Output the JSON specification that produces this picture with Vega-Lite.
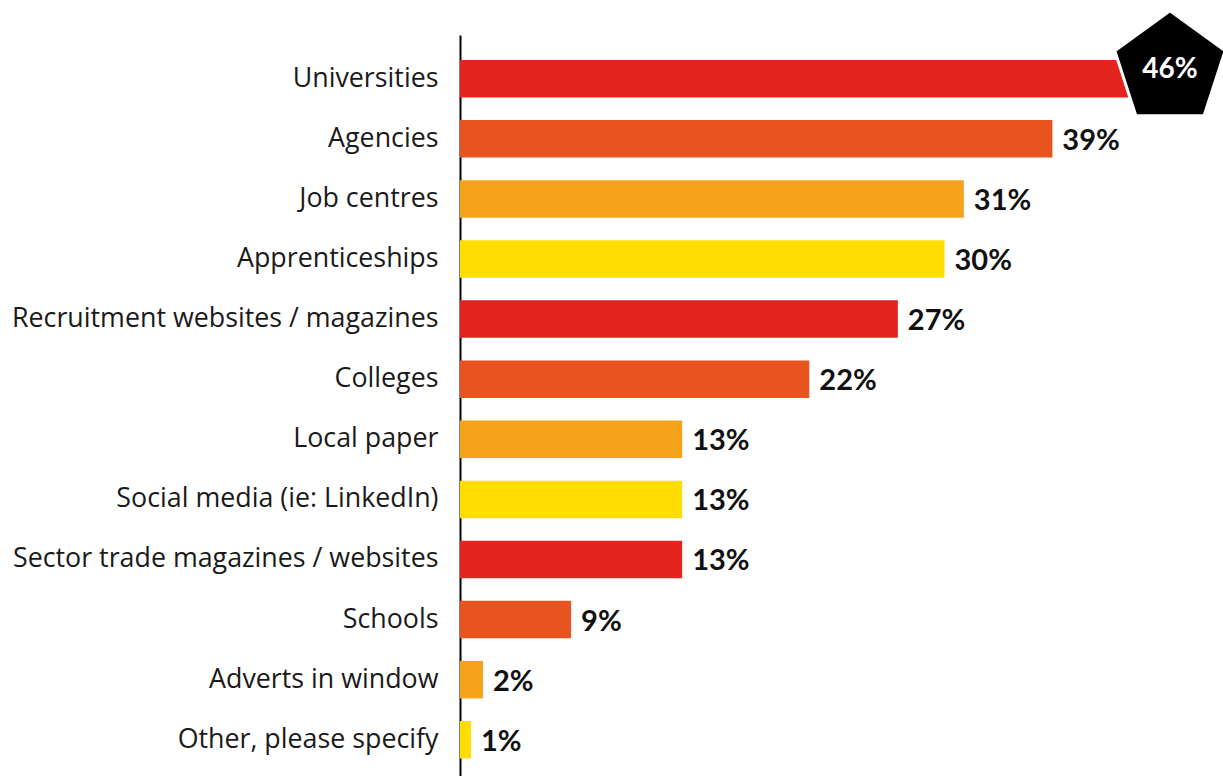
{
  "$schema": "https://vega.github.io/schema/vega-lite/v6.json",
  "width": 763,
  "height": 741,
  "autosize": "none",
  "padding": {"left": 460, "top": 35, "right": 0, "bottom": 0},
  "background": "white",
  "config": {"view": {"stroke": null}, "font": "Lato"},
  "data": {
    "values": [
      {"source": "Universities", "bar": 46, "label": "46%"},
      {"source": "Agencies", "bar": 36.8, "label": "39%"},
      {"source": "Job centres", "bar": 31.3, "label": "31%"},
      {"source": "Apprenticeships", "bar": 30.1, "label": "30%"},
      {"source": "Recruitment websites / magazines", "bar": 27.2, "label": "27%"},
      {"source": "Colleges", "bar": 21.7, "label": "22%"},
      {"source": "Local paper", "bar": 13.8, "label": "13%"},
      {"source": "Social media (ie: LinkedIn)", "bar": 13.8, "label": "13%"},
      {"source": "Sector trade magazines / websites", "bar": 13.8, "label": "13%"},
      {"source": "Schools", "bar": 6.9, "label": "9%"},
      {"source": "Adverts in window", "bar": 1.43, "label": "2%"},
      {"source": "Other, please specify", "bar": 0.68, "label": "1%"}
    ]
  },
  "encoding": {
    "y": {
      "field": "source",
      "type": "nominal",
      "sort": null,
      "title": null,
      "scale": {"paddingInner": 0.376, "paddingOuter": 0.3535, "align": 0.588},
      "axis": {
        "domainColor": "#000000",
        "domainWidth": 2,
        "ticks": false,
        "labelPadding": 22,
        "labelFontSize": 26.8,
        "labelFont": "Open Sans",
        "labelFontWeight": 400,
        "labelColor": "#1a1a1a",
        "labelLimit": 460
      }
    },
    "x": {
      "field": "bar",
      "type": "quantitative",
      "scale": {"domain": [0, 47.4], "nice": false, "zero": true},
      "axis": null
    }
  },
  "layer": [
    {
      "mark": {"type": "bar"},
      "encoding": {
        "color": {
          "field": "source",
          "type": "nominal",
          "legend": null,
          "scale": {
            "domain": ["Universities", "Agencies", "Job centres", "Apprenticeships", "Recruitment websites / magazines", "Colleges", "Local paper", "Social media (ie: LinkedIn)", "Sector trade magazines / websites", "Schools", "Adverts in window", "Other, please specify"],
            "range": ["#E3241F", "#E8541F", "#F5A31B", "#FFDD00", "#E3241F", "#E8541F", "#F5A31B", "#FFDD00", "#E3241F", "#E8541F", "#F5A31B", "#FFDD00"]
          }
        }
      }
    },
    {
      "transform": [{"filter": "datum.source !== 'Universities'"}],
      "mark": {"type": "text", "align": "left", "baseline": "middle", "dx": 10, "dy": 2, "fontSize": 29, "fontWeight": "bold", "font": "Lato", "color": "#111111"},
      "encoding": {"text": {"field": "label"}}
    },
    {
      "transform": [{"filter": "datum.source === 'Universities'"}],
      "mark": {
        "type": "point",
        "shape": "M0,-1 L0.951,-0.309 L0.588,0.809 L-0.588,0.809 L-0.951,-0.309 Z",
        "size": 13456,
        "filled": true,
        "fill": "#000000",
        "stroke": "#ffffff",
        "strokeWidth": 3,
        "opacity": 1,
        "xOffset": -30.5,
        "yOffset": -10
      },
      "encoding": {}
    },
    {
      "transform": [{"filter": "datum.source === 'Universities'"}],
      "mark": {"type": "text", "align": "center", "baseline": "middle", "fontSize": 28, "fontWeight": "bold", "font": "Lato", "color": "#ffffff", "xOffset": -30.5, "yOffset": -9},
      "encoding": {"text": {"field": "label"}}
    }
  ]
}
